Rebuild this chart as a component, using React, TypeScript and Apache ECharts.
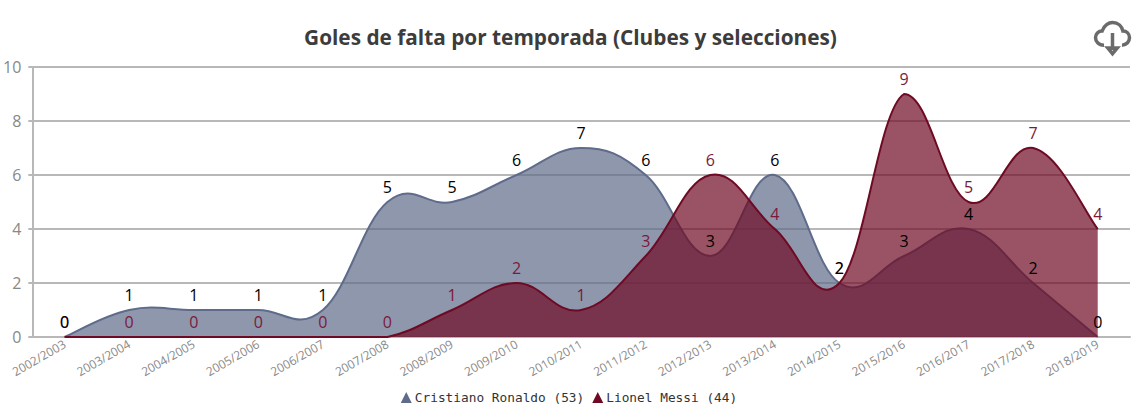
import React, { useEffect, useRef } from "react";
import * as echarts from "echarts";

const categories = [
  "2002/2003", "2003/2004", "2004/2005", "2005/2006", "2006/2007", "2007/2008",
  "2008/2009", "2009/2010", "2010/2011", "2011/2012", "2012/2013", "2013/2014",
  "2014/2015", "2015/2016", "2016/2017", "2017/2018", "2018/2019",
];
const ronaldo = [0, 1, 1, 1, 1, 5, 5, 6, 7, 6, 3, 6, 2, 3, 4, 2, 0];
const messi = [0, 0, 0, 0, 0, 0, 1, 2, 1, 3, 6, 4, 2, 9, 5, 7, 4];
const ronaldoName = "Cristiano Ronaldo (53)";
const messiName = "Lionel Messi (44)";
const titleText = "Goles de falta por temporada (Clubes y selecciones)";

const cloudIcon =
  "path://M9 24 C3 24 0 20 0 16 C0 12 3 9 7 9 C9 3 14 0 18 0 C24 0 28 4 29 9 C33 9 36 12 36 16 C36 20 33 24 28 24 M18 11 L18 29 M13 27 L18 33 L23 27 Z";

const font = "'Open Sans', sans-serif";
const TANGENT = 0.2;

// Bezier path through the scaled points, tangent parallel to (next - prev),
// control points kept inside the bounding box of the series.
function curvePath(pts: number[][]) {
  const xs = pts.map((p) => p[0]);
  const ys = pts.map((p) => p[1]);
  const x0 = Math.min(...xs), x1 = Math.max(...xs);
  const y0 = Math.min(...ys), y1 = Math.max(...ys);
  const clamp = (p: number[]) => [
    Math.min(x1, Math.max(x0, p[0])),
    Math.min(y1, Math.max(y0, p[1])),
  ];
  let d = `M${pts[0][0]} ${pts[0][1]}`;
  const n = pts.length;
  let cp = clamp([
    pts[0][0] + (pts[1][0] - pts[0][0]) * TANGENT,
    pts[0][1] + (pts[1][1] - pts[0][1]) * TANGENT,
  ]);
  for (let i = 0; i < n - 1; i++) {
    const p = pts[i + 1];
    const prev = pts[i];
    const next = pts[Math.min(i + 2, n - 1)];
    const vx = next[0] - prev[0];
    const vy = next[1] - prev[1];
    const c2 = clamp([p[0] - vx * TANGENT, p[1] - vy * TANGENT]);
    d += `C${cp[0]} ${cp[1]} ${c2[0]} ${c2[1]} ${p[0]} ${p[1]}`;
    cp = clamp([p[0] + vx * TANGENT, p[1] + vy * TANGENT]);
  }
  return d;
}

export default function App() {
  const ref = useRef<HTMLDivElement>(null);
  useEffect(() => {
    document.body.style.margin = "0";
    const chart = echarts.init(ref.current!, undefined, { renderer: "svg" });
    const shape = (name: string, values: number[], color: string) => ({
      name,
      type: "custom" as const,
      data: values.map((v, i) => [i, v]),
      itemStyle: { color },
      silent: true,
      renderItem: (params: any, api: any) => {
        if (params.dataIndex !== 0) return null;
        const pts = values.map((v, i) => api.coord([i, v]));
        const line = curvePath(pts);
        const base0 = api.coord([0, 0]);
        const base1 = api.coord([values.length - 1, 0]);
        const area = `${line}L${base1[0]} ${base1[1]}L${base0[0]} ${base0[1]}Z`;
        return {
          type: "group",
          children: [
            { type: "path", shape: { pathData: area }, style: { fill: color, opacity: 0.7, stroke: "none" } },
            { type: "path", shape: { pathData: line }, style: { fill: "none", stroke: color, lineWidth: 2 } },
          ],
        };
      },
    });
    const labels = (name: string, data: number[], color: string, labelColor: string) => ({
      name,
      type: "line" as const,
      data,
      symbol: "circle",
      symbolSize: 0,
      showSymbol: true,
      showAllSymbol: true,
      lineStyle: { opacity: 0, width: 0 },
      itemStyle: { color },
      label: {
        show: true,
        position: "top" as const,
        color: labelColor,
        fontSize: 16,
        fontFamily: font,
        distance: 7,
      },
    });
    chart.setOption({
      animation: false,
      backgroundColor: "#fff",
      title: {
        text: titleText,
        left: 565.5,
        top: 21,
        textAlign: "center",
        textStyle: { fontFamily: font, fontSize: 20.8, fontWeight: 700, color: "#3c3c3c" },
      },
      toolbox: {
        right: 6,
        top: 20,
        padding: 0,
        itemSize: 34,
        feature: { saveAsImage: { icon: cloudIcon, title: "" } },
        iconStyle: { color: "none", borderColor: "#6b6b6b", borderWidth: 3.5 },
      },
      legend: {
        bottom: 16,
        left: "center",
        itemGap: 8,
        itemWidth: 11,
        itemHeight: 11,
        padding: 0,
        icon: "triangle",
        textStyle: { fontFamily: "'DejaVu Sans Mono', monospace", fontSize: 12.8, color: "#333", padding: [0, 0, 0, -2] },
        data: [ronaldoName, messiName],
      },
      grid: { left: 31, right: 8, top: 67, bottom: 83, containLabel: false },
      xAxis: {
        type: "category",
        data: categories,
        boundaryGap: true,
        axisTick: { alignWithLabel: true, length: 5, lineStyle: { color: "#b8b8b8" } },
        axisLine: { lineStyle: { color: "#b8b8b8", width: 2 } },
        axisLabel: { rotate: 30, interval: 0, color: "#888", fontSize: 12, fontFamily: font, margin: 6 },
      },
      yAxis: {
        type: "value",
        min: 0,
        max: 10,
        interval: 2,
        axisLine: { show: true, lineStyle: { color: "#b8b8b8", width: 2 } },
        axisTick: { show: true, length: 4, lineStyle: { color: "#b8b8b8", width: 2 } },
        axisLabel: { color: "#888", fontSize: 16, fontFamily: font, margin: 11, padding: [0, 0, 3, 0] },
        splitLine: { lineStyle: { color: "#b8b8b8", width: 2 } },
      },
      series: [
        shape(ronaldoName, ronaldo, "#5f6b8a"),
        shape(messiName, messi, "#6e0a24"),
        labels(messiName, messi, "#6e0a24", "#7a1a3a"),
        labels(ronaldoName, ronaldo, "#5f6b8a", "#000"),
      ],
    });
    return () => chart.dispose();
  }, []);
  return <div ref={ref} style={{ width: 1138, height: 420 }} />;
}
